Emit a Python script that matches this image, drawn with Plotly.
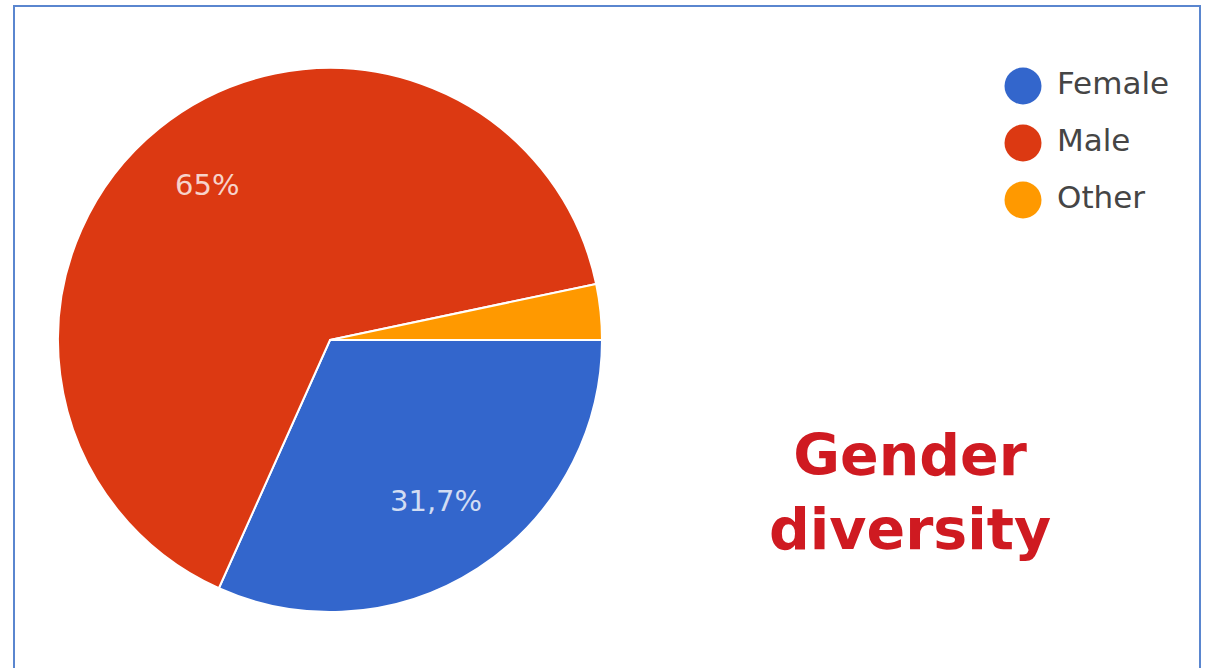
import math
import plotly.graph_objects as go

categories = ["Female", "Male", "Other"]
values = [31.7, 65.0, 3.3]
labels_text = ["31,7%", "65%", ""]
colors = ["#3366cc", "#dc3912", "#ff9900"]
title_lines = ["Gender", "diversity"]

W, H = 1208, 668


def px(x):
    return x / W


def py(y):
    return 1 - y / H


# pie geometry (page pixels)
CX, CY, R = 330, 340, 272
START = 90  # degrees clockwise from north (3 o'clock)

fig = go.Figure()

fig.add_trace(go.Pie(
    labels=categories,
    values=values,
    textinfo="none",
    sort=False,
    direction="clockwise",
    rotation=START,
    marker=dict(colors=colors, line=dict(color="white", width=2)),
    domain=dict(x=[px(CX - R), px(CX + R)], y=[py(CY + R), py(CY - R)]),
    showlegend=False,
    hoverinfo="label+percent",
))

# slice labels placed along each slice bisector
annotations = []
total = sum(values)
cum = 0.0
for v, t in zip(values, labels_text):
    mid = START + 360 * (cum + v / 2) / total
    cum += v
    if not t:
        continue
    a = math.radians(mid)
    lx = CX + 0.72 * R * math.sin(a)
    ly = CY - 0.72 * R * math.cos(a)
    annotations.append(dict(
        text=t, xref="paper", yref="paper", x=px(lx), y=py(ly - 3),
        xanchor="center", yanchor="middle", showarrow=False,
        font=dict(family="DejaVu Sans", size=29, color="rgba(255,255,255,0.78)"),
    ))

annotations.append(dict(
    text="<br>".join(title_lines),
    xref="paper", yref="paper",
    x=px(910), y=py(492),
    xanchor="center", yanchor="middle",
    showarrow=False,
    font=dict(family="DejaVu Sans", size=57, color="#cf1a21", weight="bold"),
))

# custom legend with large round markers
fig.add_trace(go.Scatter(
    x=[0] * len(categories),
    y=list(range(len(categories))),
    mode="markers+text",
    marker=dict(size=37, color=colors, line=dict(width=0)),
    text=["\u00a0" + c for c in categories],
    textposition="middle right",
    textfont=dict(family="DejaVu Sans", size=31, color="#454545"),
    cliponaxis=False,
    showlegend=False,
    hoverinfo="skip",
    xaxis="x", yaxis="y",
))

fig.update_layout(
    width=W, height=H,
    margin=dict(l=0, r=0, t=0, b=0),
    paper_bgcolor="white",
    plot_bgcolor="rgba(0,0,0,0)",
    xaxis=dict(domain=[px(1005), px(1041)], range=[-1, 1], visible=False, fixedrange=True),
    yaxis=dict(domain=[py(228.5), py(57.5)], range=[2.5, -0.5], visible=False, fixedrange=True),
    annotations=annotations,
    shapes=[dict(
        type="rect", xref="paper", yref="paper",
        x0=px(14), x1=px(1200), y0=-0.2, y1=py(6),
        line=dict(color="#5a86cf", width=2),
        fillcolor="rgba(0,0,0,0)",
    )],
)

fig.write_html(
    "out.html",
    config={"displayModeBar": False},
    post_script="document.body.style.margin='0';document.body.style.overflow='hidden';",
)
